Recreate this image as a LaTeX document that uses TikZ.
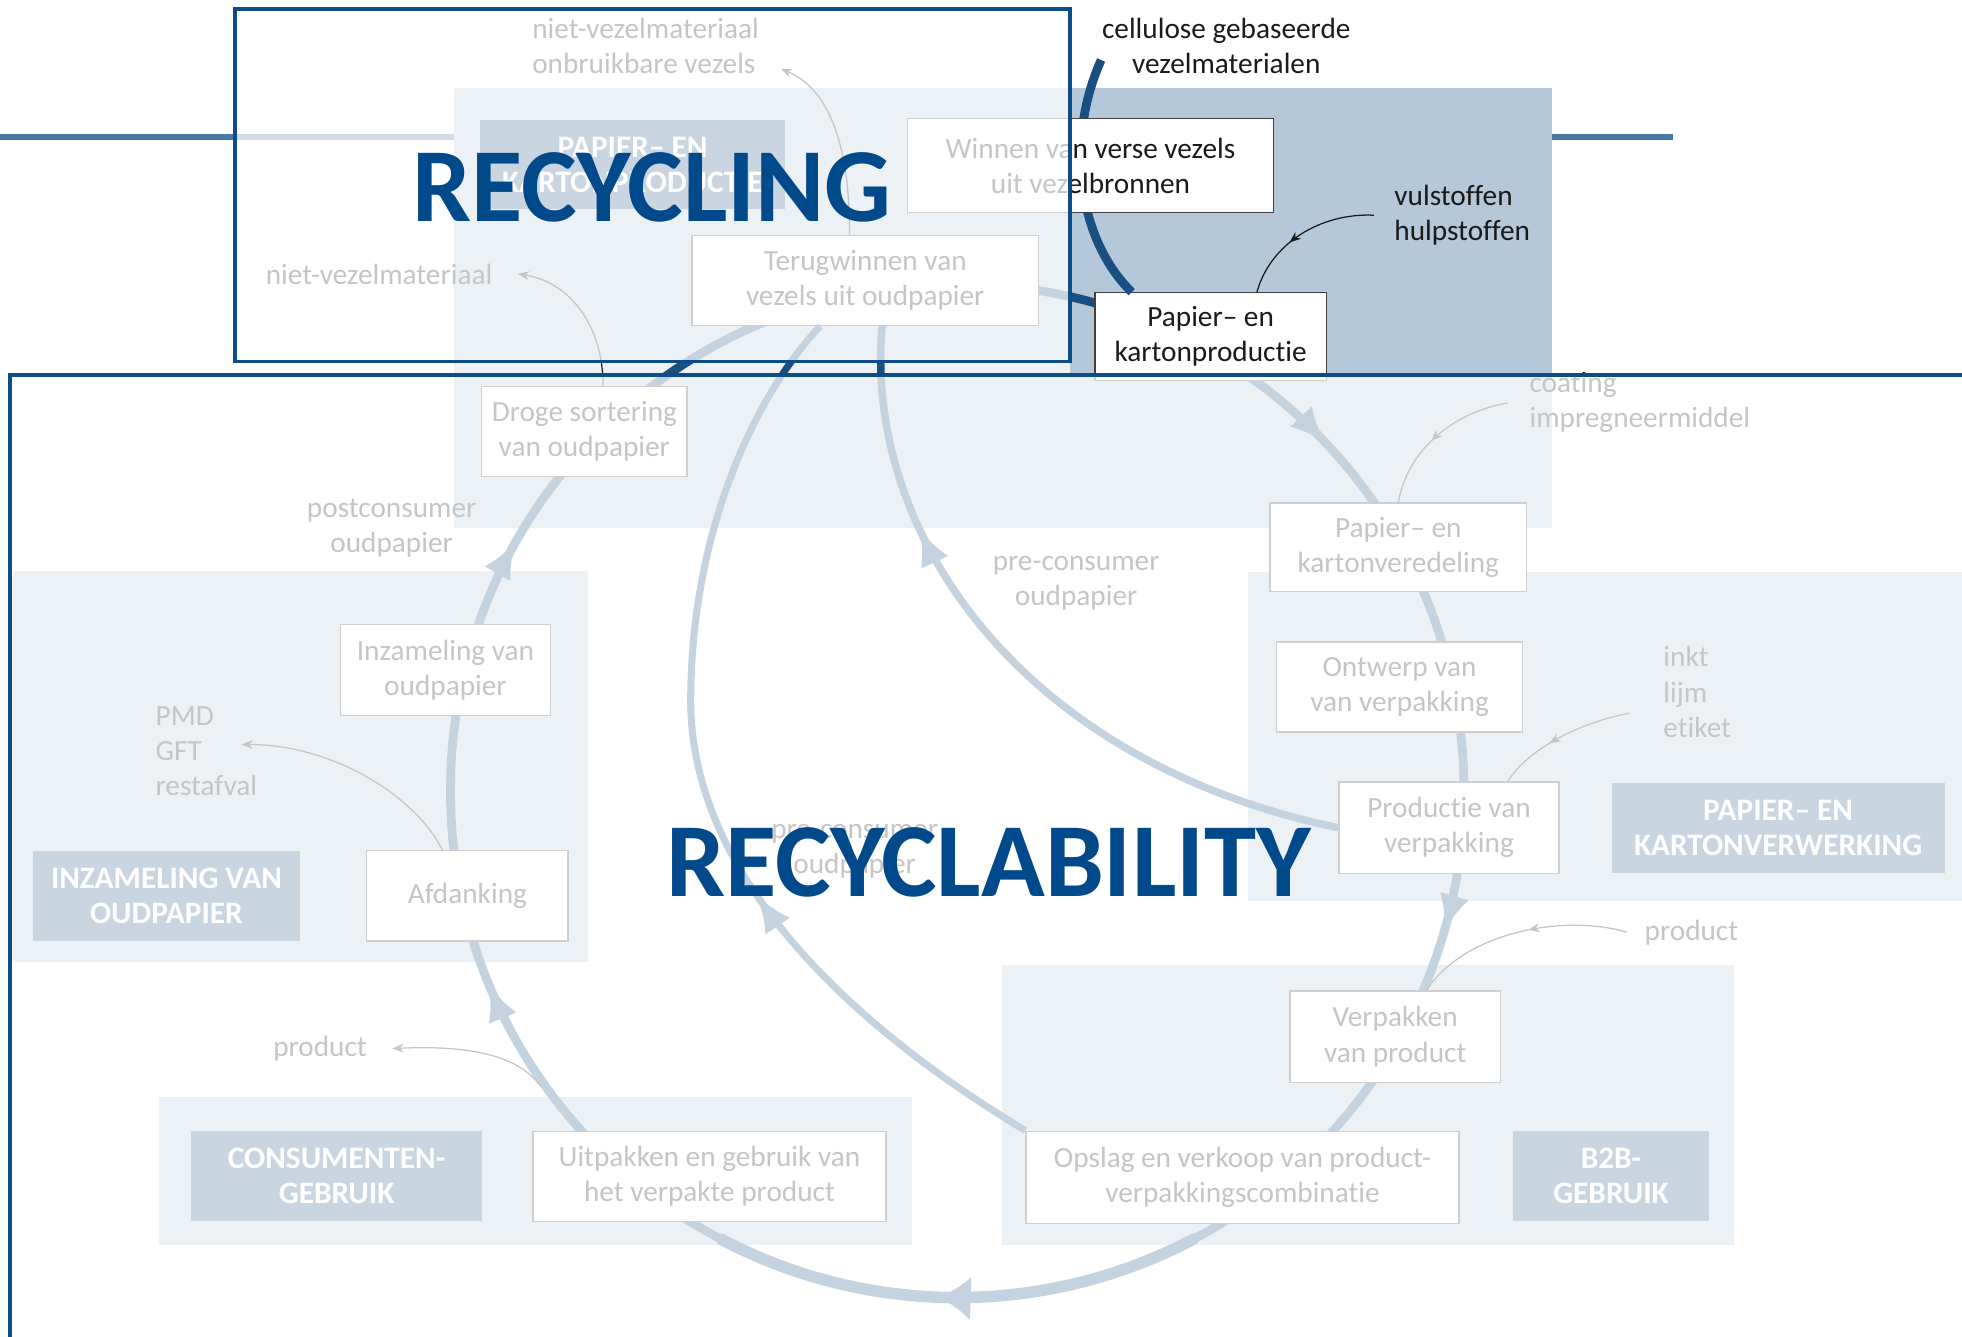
\documentclass[tikz,border=0pt]{standalone}
\usepackage{fontspec}
\setmainfont{Carlito}[Ligatures=NoCommon]
\usetikzlibrary{arrows.meta, positioning, decorations.markings}

\definecolor{panelblue}{HTML}{B4C8DA}
\definecolor{panelpale}{HTML}{ECF1F5}
\definecolor{phaseblue}{HTML}{2A5F8F}
\definecolor{flowblue}{HTML}{1A4F82}
\definecolor{ruleblue}{HTML}{4679A5}
\definecolor{frameblue}{HTML}{0D4C87}
\definecolor{titleblue}{HTML}{00498A}
\definecolor{inkdark}{HTML}{1A1A1A}

\begin{document}
\begin{tikzpicture}[x=0.5pt, y=-0.5pt,
    every node/.style={font=\fontsize{11.7}{14}\selectfont, text=inkdark, inner sep=0pt},
    flowtip/.tip={Latex[length=15pt, width=12pt]},
    notetip/.tip={Stealth[length=4.5pt, width=3.5pt]},
    midnote/.style={note, postaction={decorate},
      decoration={markings, mark=at position #1 with {\arrow{notetip}}}}]
  \tikzstyle{procbox}=[draw=black!75, line width=0.5pt, fill=white, align=center]
  \tikzstyle{phasebox}=[fill=phaseblue, text=white, align=center, font=\fontsize{12.5}{14}\selectfont\bfseries]
  \tikzstyle{panel}=[fill=panelblue]
  \tikzstyle{flow}=[draw=flowblue, color=flowblue, line width=3.5pt]
  \tikzstyle{note}=[draw=inkdark, line width=0.5pt]
  \tikzstyle{fade}=[fill=white, fill opacity=0.75]
  \tikzstyle{frame}=[draw=frameblue, line width=1.5pt]
  \tikzstyle{title}=[text=titleblue, font=\fontsize{42}{42}\selectfont\bfseries]
  \useasboundingbox (0,0) rectangle (1568,1068);

  % Rule and panels
  \draw[ruleblue, line width=2.5pt] (0,109.5) -- (1337,109.5);
  \fill[panel] (363,70) rectangle (1240,422);
  \fill[panelpale] (363,289) rectangle (855,300);
  \fill[panel] (10,456) rectangle (470,769);
  \fill[panel] (997,457) rectangle (1568,720);
  \fill[panel] (127,877) rectangle (729,995);
  \fill[panel] (801,771) rectangle (1386,995);

  % Main cycle
  \coordinate (hub) at (765,632);
  \draw[flow, postaction={decorate}, decoration={markings,
      mark=at position 0.045 with {\arrow{flowtip}},
      mark=at position 0.256 with {\arrow{Latex[length=13pt, width=18pt]}},
      mark=at position 0.438 with {\arrow{flowtip}},
      mark=at position 0.582 with {\arrow{flowtip}},
      mark=at position 0.880 with {\arrow{flowtip}}}]
    (hub) circle[radius=405];
  \draw[flow, line width=4.6pt] ([shift={(62:405)}]hub) arc[start angle=62, end angle=118, radius=405];

  % Boxes
  \node[procbox, minimum width=146.5pt, minimum height=37.5pt] (winnen) at (871.5,132.5) {Winnen van verse vezels\\uit vezelbronnen};
  \node[procbox, minimum width=138.5pt, minimum height=36pt] (terug) at (691.5,224) {Terugwinnen van\\vezels uit oudpapier};
  \node[procbox, minimum width=92.5pt, minimum height=35pt] (papier) at (967.5,269) {Papier– en\\kartonproductie};
  \node[procbox, minimum width=82pt, minimum height=36pt] (droge) at (467,345) {Droge sortering\\van oudpapier};
  \node[procbox, minimum width=102.5pt, minimum height=35.5pt] (vered) at (1117.5,437.5) {Papier– en\\kartonveredeling};
  \node[procbox, minimum width=98.5pt, minimum height=36pt] (ontwerp) at (1118.5,549) {Ontwerp van\\van verpakking};
  \node[procbox, minimum width=88pt, minimum height=36.5pt] (productie) at (1158,661.5) {Productie van\\verpakking};
  \node[procbox, minimum width=84pt, minimum height=36.5pt] (verpakken) at (1115,828.5) {Verpakken\\van product};
  \node[procbox, minimum width=173pt, minimum height=37pt] (opslag) at (993,941) {Opslag en verkoop van product-\\verpakkingscombinatie};
  \node[procbox, minimum width=141pt, minimum height=36pt] (uitpakken) at (567,940) {Uitpakken en gebruik van\\het verpakte product};
  \node[procbox, minimum width=80.5pt, minimum height=36pt] (afdanking) at (373.5,716) {Afdanking};
  \node[procbox, minimum width=84pt, minimum height=36.5pt] (inzameling) at (356,535.5) {Inzameling van\\oudpapier};

  % Phases
  \node[phasebox, minimum width=121.5pt, minimum height=35.5pt] (prodphase) at (505.5,131.5) {PAPIER– EN\\KARTONPRODUCTIE};
  \node[phasebox, minimum width=107pt, minimum height=36pt] (collectphase) at (133,716) {INZAMELING VAN\\OUDPAPIER};
  \node[phasebox, minimum width=133pt, minimum height=36pt] (convertphase) at (1421,662) {PAPIER– EN\\KARTONVERWERKING};
  \node[phasebox, minimum width=116pt, minimum height=36pt] (consumerphase) at (269,940) {CONSUMENTEN-\\GEBRUIK};
  \node[phasebox, minimum width=78.5pt, minimum height=36pt] (btobphase) at (1287.5,940) {B2B-\\GEBRUIK};

  % Return flows
  \draw[flow, line width=3pt, postaction={decorate}, decoration={markings,
      mark=at position 0.72 with {\arrow{flowtip}}}]
    (productie.west) .. controls (820,610) and (690,430) .. ([xshift=6.75pt]terug.south);
  \draw[flow, line width=2.8pt, postaction={decorate}, decoration={markings,
      mark=at position 0.37 with {\arrow{flowtip}}}]
    (opslag.north west) .. controls (680,820) and (552,700) .. (552,560)
    .. controls (552,430) and (600,320) .. ([xshift=-18pt]terug.south);
  \coordinate (virgin) at (880,48);
  \draw[flow] (virgin) .. controls (852,110) and (860,190) .. ([xshift=15pt]papier.north west);
  \node[procbox, minimum width=146.5pt, minimum height=37.5pt] at (winnen) {Winnen van verse vezels\\uit vezelbronnen};

  % Side streams
  \node[anchor=west, align=left] (rejects) at (425,37) {niet-vezelmateriaal\\onbruikbare vezels};
  \node[align=center] (cellulose) at (980,37) {cellulose gebaseerde\\vezelmaterialen};
  \node[anchor=west, align=left] (fillers) at (1114,172) {vulstoffen\\hulpstoffen};
  \node[anchor=west] (nonfibre) at (212,219) {niet-vezelmateriaal};
  \node[anchor=west, align=left] (coating) at (1222,322) {coating\\impregneermiddel};
  \node[align=center] (postcons) at (313,422) {postconsumer\\oudpapier};
  \node[align=center] (precons) at (860,466) {pre-consumer\\oudpapier};
  \node[align=center] (storecons) at (683,680) {pre-consumer\\oudpapier};
  \node[anchor=west, align=left] (residual) at (124,600) {PMD\\GFT\\restafval};
  \node[anchor=west, align=left] (inks) at (1329,553) {inkt\\lijm\\etiket};
  \node[anchor=west] (productout) at (218,838) {product};
  \node[anchor=west] (productin) at (1314,745) {product};

  \coordinate (rejectsend) at (624,55);
  \coordinate (residualend) at (193,595);
  \coordinate (inksfeed) at (1302,570);
  \coordinate (spent) at (432,868);
  \draw[note, -{notetip}] ([xshift=-6.25pt]terug.north) .. controls (679,110) and (660,70) .. (rejectsend);
  \draw[note, -{notetip}] ([xshift=7.5pt]droge.north) .. controls (482,260) and (455,225) .. ([xshift=10pt]nonfibre.east);
  \draw[midnote=0.6] ([xshift=-8pt]fillers.west) .. controls (1055,170) and (1015,195) .. ([xshift=65pt]papier.north west);
  \draw[midnote=0.55] ([xshift=-8.5pt]coating.west) .. controls (1160,330) and (1125,360) .. (vered.north);
  \draw[midnote=0.6] (inksfeed) .. controls (1260,578) and (1220,600) .. ([xshift=23.5pt]productie.north);
  \draw[midnote=0.45] ([xshift=-7pt]productin.west) .. controls (1250,730) and (1170,745) .. ([xshift=12.5pt]verpakken.north);
  \draw[note, -{notetip}] (spent) .. controls (415,845) and (380,835) .. ([xshift=10pt]productout.east);
  \draw[note, -{notetip}] ([xshift=-10pt]afdanking.north) .. controls (335,640) and (270,595) .. (residualend);

  % Focus frames
  \fill[fade] (188,7) rectangle (855,289);
  \fill[fade] (8,300) rectangle (1568,1068);
  \draw[frame] (188,7) rectangle (855,289);
  \draw[frame] (1580,300) -- (8,300) -- (8,1080);
  \node[title] (recycling) at (521,150) {RECYCLING};
  \node[title] (recyclability) at (790,689) {RECYCLABILITY};
\end{tikzpicture}
\end{document}
